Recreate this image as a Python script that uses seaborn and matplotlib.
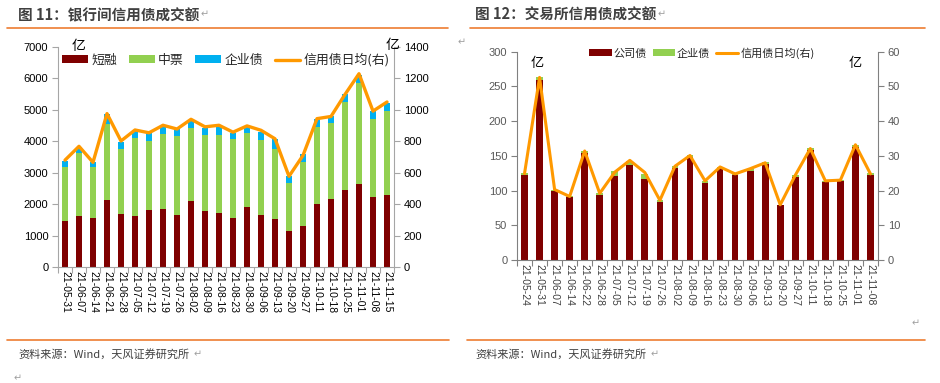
import numpy as np
import pandas as pd
import matplotlib
matplotlib.use("Agg")
import matplotlib.pyplot as plt
import seaborn as sns
from matplotlib.patches import Patch
from matplotlib.lines import Line2D

sns.set_theme(style="white")
plt.rcParams["font.family"] = ["Noto Sans CJK SC", "DejaVu Sans"]
plt.rcParams["axes.unicode_minus"] = False

# ---------------- data: left chart (银行间) ----------------
dates_l = ["21-05-31", "21-06-07", "21-06-14", "21-06-21", "21-06-28", "21-07-05",
           "21-07-12", "21-07-19", "21-07-26", "21-08-02", "21-08-09", "21-08-16",
           "21-08-23", "21-08-30", "21-09-06", "21-09-13", "21-09-20", "21-09-27",
           "21-10-11", "21-10-18", "21-10-25", "21-11-01", "21-11-08", "21-11-15"]
short_fin = [1450, 1620, 1550, 2140, 1690, 1610, 1800, 1850, 1650, 2100, 1770, 1710,
             1550, 1910, 1650, 1520, 1150, 1300, 2000, 2160, 2440, 2630, 2240, 2290]
mtn = [1720, 2010, 1620, 2400, 2050, 2480, 2210, 2390, 2530, 2330, 2440, 2500,
       2510, 2340, 2380, 2220, 1520, 2030, 2460, 2410, 2820, 3220, 2480, 2660]
ent_l = [200, 190, 180, 320, 240, 230, 260, 210, 220, 210, 220, 240,
         200, 200, 260, 320, 210, 250, 240, 220, 230, 270, 240, 270]
avg_l = [680, 768, 666, 976, 802, 872, 854, 902, 878, 940, 892, 902,
         858, 898, 870, 816, 577, 710, 944, 958, 1098, 1230, 992, 1050]

# ---------------- data: right chart (交易所) ----------------
dates_r = ["21-05-24", "21-05-31", "21-06-07", "21-06-14", "21-06-22", "21-06-28",
           "21-07-05", "21-07-12", "21-07-19", "21-07-26", "21-08-02", "21-08-09",
           "21-08-16", "21-08-23", "21-08-30", "21-09-06", "21-09-13", "21-09-20",
           "21-09-27", "21-10-11", "21-10-18", "21-10-25", "21-11-01", "21-11-08"]
corp = [122.9, 259.2, 98.9, 90.3, 153.6, 94.1, 120.5, 137.3, 117.1, 83.1, 133.0, 147.9,
        111.4, 132.0, 121.9, 128.7, 138.3, 78.7, 119.5, 158.4, 112.8, 113.3, 163.2, 121.9]
ent_r = [2.4, 3.8, 2.4, 1.4, 2.9, 1.9, 7.7, 5.7, 7.2, 3.8, 2.4, 2.8,
         2.4, 2.4, 1.5, 2.8, 2.4, 1.0, 2.4, 2.9, 1.0, 1.9, 2.9, 2.9]
avg_r = [24.9, 52.6, 20.3, 18.3, 31.4, 19.2, 25.3, 28.7, 25.2, 17.2, 27.0, 30.1,
         22.8, 26.8, 24.8, 26.3, 28.0, 15.9, 24.4, 32.1, 22.8, 23.0, 33.2, 24.8]

RED = "#7F0000"
GREEN = "#92D050"
BLUE = "#00B0F0"
ORANGE = "#FF9900"
WORD_ORANGE = "#ED7D31"
NUMFONT = ["Liberation Sans", "DejaVu Sans"]

W, H = 940, 383
fig = plt.figure(figsize=(W / 100, H / 100), dpi=100)


def fx(px):
    return px / W


def fy(py):
    return 1 - py / H


def style_axes(ax, ax2, n, spine_col, lab_col):
    for a in (ax, ax2):
        for s in a.spines.values():
            s.set_color(spine_col)
            s.set_linewidth(0.8)
        a.spines["top"].set_visible(False)
    ax.spines["right"].set_visible(False)
    ax2.spines["left"].set_visible(False)
    ax2.spines["bottom"].set_visible(False)
    ax.set_xlim(-0.5, n - 0.5)
    ax.set_xticks(np.arange(n))
    ax.set_xticks(np.arange(-0.5, n, 1), minor=True)
    ax.tick_params(axis="x", which="major", length=0, pad=3)
    ax.tick_params(axis="x", which="minor", bottom=True, length=4, width=0.8,
                   color=spine_col, direction="out")
    ax.tick_params(axis="y", left=True, length=4, width=0.8, color=spine_col,
                   direction="out", labelsize=8, labelcolor=lab_col, pad=3)
    ax2.tick_params(axis="y", right=True, length=4, width=0.8, color=spine_col,
                    direction="out", labelsize=8, labelcolor=lab_col, pad=3)
    for lab in ax.get_yticklabels() + ax2.get_yticklabels():
        lab.set_family(NUMFONT)
    ax.set_xlabel("")
    ax.set_ylabel("")
    ax2.set_xlabel("")
    ax2.set_ylabel("")
    ax.grid(False)
    ax2.grid(False)


# ================= Left chart =================
n_l = len(dates_l)
df_l = pd.DataFrame({"date": dates_l, "short": short_fin, "mtn": mtn, "ent": ent_l, "avg": avg_l})
df_l["top_green"] = df_l["short"] + df_l["mtn"]
df_l["total"] = df_l["top_green"] + df_l["ent"]

axL = fig.add_axes([fx(58), fy(267), fx(394 - 58), (267 - 47) / H])
for col, c in (("total", BLUE), ("top_green", GREEN), ("short", RED)):
    sns.barplot(data=df_l, x="date", y=col, order=dates_l, color=c, saturation=1,
                width=0.45, linewidth=0, ax=axL, errorbar=None)
axL.set_ylim(0, 7000)
axL.set_yticks(np.arange(0, 7001, 1000))
axL2 = axL.twinx()
sns.lineplot(x=np.arange(n_l), y=df_l["avg"], ax=axL2, color=ORANGE, lw=2.4)
axL2.set_ylim(0, 1400)
axL2.set_yticks(np.arange(0, 1401, 200))
style_axes(axL, axL2, n_l, "#A6A6A6", "#000000")
axL.set_xticklabels(dates_l, rotation=-90, fontsize=7.5, family=NUMFONT, color="#000000")

handles_l = [Patch(facecolor=RED, edgecolor="none"), Patch(facecolor=GREEN, edgecolor="none"),
             Patch(facecolor=BLUE, edgecolor="none"), Line2D([0], [0], color=ORANGE, lw=2.4)]
fig.legend(handles_l, ["短融", "中票", "企业债", "信用债日均(右)"], loc="center",
           bbox_to_anchor=(fx(226), fy(60)), ncol=4, frameon=False, fontsize=9.3,
           handlelength=2.0, handleheight=0.55, handletextpad=0.25, columnspacing=0.9,
           borderpad=0)
fig.text(fx(72), fy(46), "亿", fontsize=10, ha="left", va="center", color="#000000")
fig.text(fx(386), fy(45), "亿", fontsize=10, ha="left", va="center", color="#000000")

# ================= Right chart =================
n_r = len(dates_r)
df_r = pd.DataFrame({"date": dates_r, "corp": corp, "ent": ent_r, "avg": avg_r})
df_r["total"] = df_r["corp"] + df_r["ent"]

axR = fig.add_axes([fx(517), fy(260), fx(878 - 517), (260 - 51.7) / H])
for col, c in (("total", GREEN), ("corp", RED)):
    sns.barplot(data=df_r, x="date", y=col, order=dates_r, color=c, saturation=1,
                width=0.45, linewidth=0, ax=axR, errorbar=None)
axR.set_ylim(0, 300)
axR.set_yticks(np.arange(0, 301, 50))
axR2 = axR.twinx()
sns.lineplot(x=np.arange(n_r), y=df_r["avg"], ax=axR2, color=ORANGE, lw=2.2)
axR2.set_ylim(0, 60)
axR2.set_yticks(np.arange(0, 61, 10))
style_axes(axR, axR2, n_r, "#808080", "#595959")
axR.set_xticklabels(dates_r, rotation=-90, fontsize=7.5, family=NUMFONT, color="#404040")

handles_r = [Patch(facecolor=RED, edgecolor="none"), Patch(facecolor=GREEN, edgecolor="none"),
             Line2D([0], [0], color=ORANGE, lw=2.2)]
fig.legend(handles_r, ["公司债", "企业债", "信用债日均(右)"], loc="center",
           bbox_to_anchor=(fx(702), fy(53)), ncol=3, frameon=False, fontsize=8,
           handlelength=2.0, handleheight=0.55, handletextpad=0.2, columnspacing=0.5,
           borderpad=0)
fig.text(fx(537), fy(63), "亿", fontsize=9.5, ha="center", va="center", color="#000000")
fig.text(fx(855), fy(63), "亿", fontsize=9.5, ha="center", va="center", color="#000000")

# ================= Titles, rules, source =================
fig.text(fx(18), fy(15), "图 11：银行间信用债成交额", fontsize=10.5, fontweight="bold",
         color="#404040", ha="left", va="center")
fig.text(fx(475), fy(15), "图 12：交易所信用债成交额", fontsize=10.5, fontweight="bold",
         color="#404040", ha="left", va="center")
for x0, x1, yy in ((7, 448, 28), (470, 925, 28), (7, 449, 340), (467, 925, 340)):
    fig.add_artist(Line2D([fx(x0), fx(x1)], [fy(yy), fy(yy)], color=WORD_ORANGE, lw=1.2))
fig.text(fx(18), fy(354), "资料来源：Wind，天风证券研究所", fontsize=8, color="#404040",
         ha="left", va="center")
fig.text(fx(475), fy(354), "资料来源：Wind，天风证券研究所", fontsize=8, color="#404040",
         ha="left", va="center")
for px, py in ((205, 14), (662, 14), (462, 42), (916, 323), (18, 378), (198, 354), (655, 354)):
    fig.text(fx(px), fy(py), "↵", fontsize=7, color="#A0A0A0", ha="center", va="center",
             family="DejaVu Sans")

fig.savefig("out.png", dpi=100)
